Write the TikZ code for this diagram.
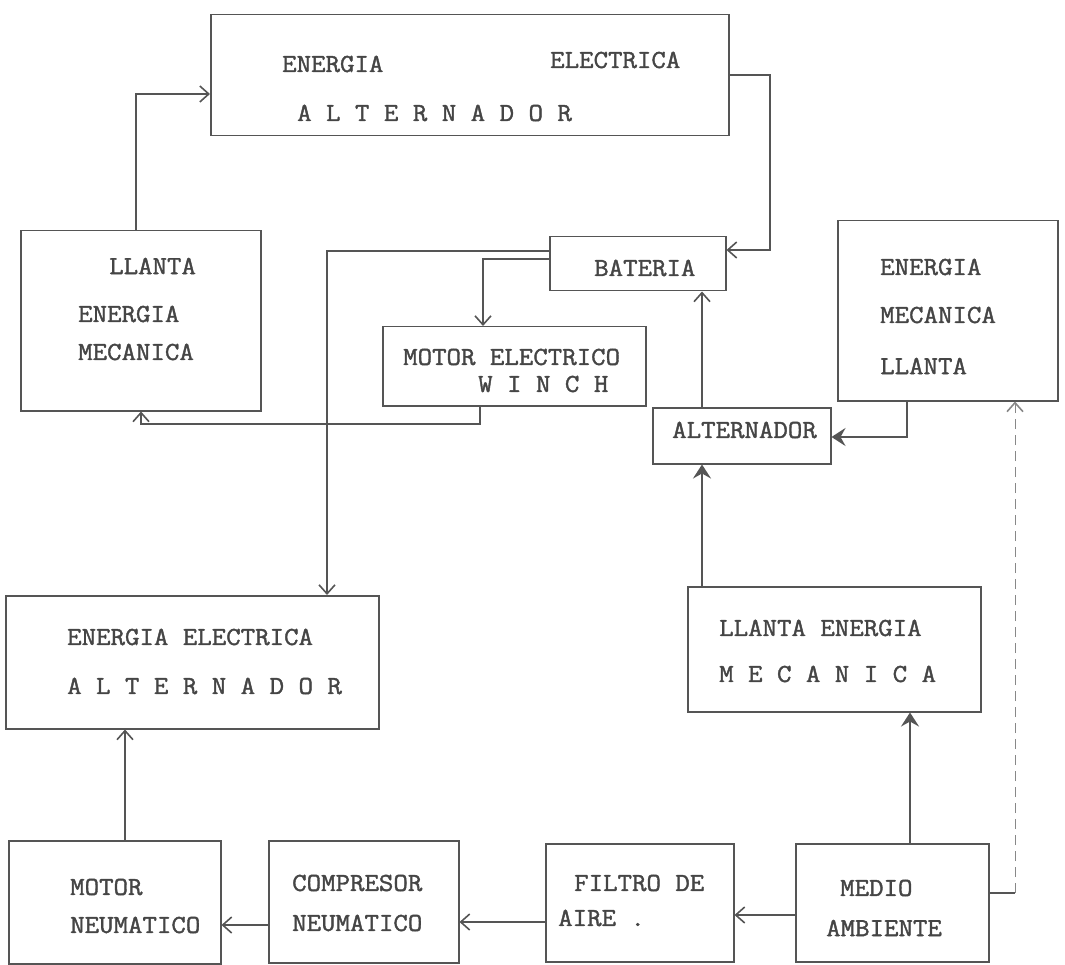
\documentclass[tikz,border=0pt]{standalone}
\usepackage{fontspec}
\newfontfamily\tw{Latin Modern Mono}[FakeStretch=1.08,FakeBold=1.5]
\usetikzlibrary{arrows.meta}
\definecolor{ink}{HTML}{454545}
\definecolor{pen}{HTML}{555555}
\tikzset{
  box/.style={draw=pen, line width=1.5pt, rectangle, anchor=north west, inner sep=0pt},
  lbl/.style={anchor=west, inner sep=0pt, text=ink, font=\tw\fontsize{26}{26}\selectfont},
  conn/.style={draw=pen, line width=1.4pt, -{Straight Barb[length=9pt,width=16pt,line width=1.6pt]}},
  thickconn/.style={draw=pen, line width=2.6pt, -{Stealth[length=14pt,width=18pt,inset=5pt]}},
  dashconn/.style={draw=pen!70, line width=1pt, dash pattern=on 10pt off 6pt, -{Straight Barb[length=9pt,width=16pt,line width=1.6pt]}},
  plain/.style={draw=pen, line width=1.6pt}
}
\begin{document}
\begin{tikzpicture}[x=1pt,y=-1pt]
\useasboundingbox[fill=white] (0,0) rectangle (1065,965);
% boxes
\node[box, minimum width=518pt, minimum height=121pt] (top) at (210,14) {};
\node[box, minimum width=240pt, minimum height=180pt] (ll) at (20,230) {};
\node[box, minimum width=176pt, minimum height=54pt] (bat) at (549,236) {};
\node[box, minimum width=263pt, minimum height=79pt] (mot) at (382,326) {};
\node[box, minimum width=220pt, minimum height=180pt] (rb) at (837,220) {};
\node[box, minimum width=178pt, minimum height=56pt] (alt) at (652,407) {};
\node[box, minimum width=373pt, minimum height=133pt] (ee) at (5,595) {};
\node[box, minimum width=293pt, minimum height=125pt] (lem) at (687,586) {};
\node[box, minimum width=212pt, minimum height=123pt] (mn) at (8,840) {};
\node[box, minimum width=190pt, minimum height=122pt] (comp) at (268,840) {};
\node[box, minimum width=188pt, minimum height=118pt] (fil) at (545,843) {};
\node[box, minimum width=193pt, minimum height=118pt] (med) at (795,843) {};
% labels
\node[lbl] (t1) at (282,64) {ENERGIA};
\node[lbl] (t2) at (550,60) {ELECTRICA};
\node[lbl] (t3) at (297,113) {A L T E R N A D O R};
\node[lbl] (l1) at (109,266) {LLANTA};
\node[lbl] (l2) at (78,314) {ENERGIA};
\node[lbl] (l3) at (78,352) {MECANICA};
\node[lbl] (b1) at (594,268) {BATERIA};
\node[lbl] (m1) at (403,357) {MOTOR ELECTRICO};
\node[lbl] (m2) at (478,384) {W I N C H};
\node[lbl] (r1) at (880,267) {ENERGIA};
\node[lbl] (r2) at (880,315) {MECANICA};
\node[lbl] (r3) at (880,366) {LLANTA};
\node[lbl] (a1) at (672,430) {ALTERNADOR};
\node[lbl] (e1) at (67,637) {ENERGIA ELECTRICA};
\node[lbl] (e2) at (67,686) {A L T E R N A D O R};
\node[lbl] (k1) at (719,628) {LLANTA ENERGIA};
\node[lbl] (k2) at (719,674) {M E C A N I C A};
\node[lbl] (n1) at (70,887) {MOTOR};
\node[lbl] (n2) at (70,925) {NEUMATICO};
\node[lbl] (c1) at (292,883) {COMPRESOR};
\node[lbl] (c2) at (292,923) {NEUMATICO};
\node[lbl] (f1) at (574,883) {FILTRO DE};
\node[lbl] (f2) at (558,918) {AIRE .};
\node[lbl] (d1) at (840,888) {MEDIO};
\node[lbl] (d2) at (826,928) {AMBIENTE};
% connectors
\draw[conn] (136,0 |- ll.north) -- (136,94) -- (top.west |- 0,94);
\draw[conn] (top.east |- 0,75) -- (770,75) -- (770,250) -- (bat.east |- 0,250);
\draw[conn] (bat.west |- 0,251) -- (327,251) -- (327,0 |- ee.north);
\draw[conn] (bat.west |- 0,259) -- (483,259) -- (483,0 |- mot.north);
\draw[conn] (480,0 |- mot.south) -- (480,424) -- (141,424) -- (141,0 |- ll.south);
\draw[thickconn] (907,0 |- rb.south) -- (907,437) -- (alt.east |- 0,437);
\draw[conn] (702,0 |- alt.north) -- (702,0 |- bat.south);
\draw[thickconn] (702,0 |- lem.north) -- (702,0 |- alt.south);
\coordinate (mturn) at (1015,893);
\draw[plain] (med.east |- 0,893) -- (mturn);
\draw[dashconn] (mturn) -- (1015,0 |- rb.south);
\draw[thickconn] (910,0 |- med.north) -- (910,0 |- lem.south);
\draw[conn] (med.west |- 0,915) -- (fil.east |- 0,915);
\draw[conn] (fil.west |- 0,922) -- (comp.east |- 0,922);
\draw[conn] (comp.west |- 0,925) -- (mn.east |- 0,925);
\draw[conn] (125,0 |- mn.north) -- (125,0 |- ee.south);
\end{tikzpicture}
\end{document}
